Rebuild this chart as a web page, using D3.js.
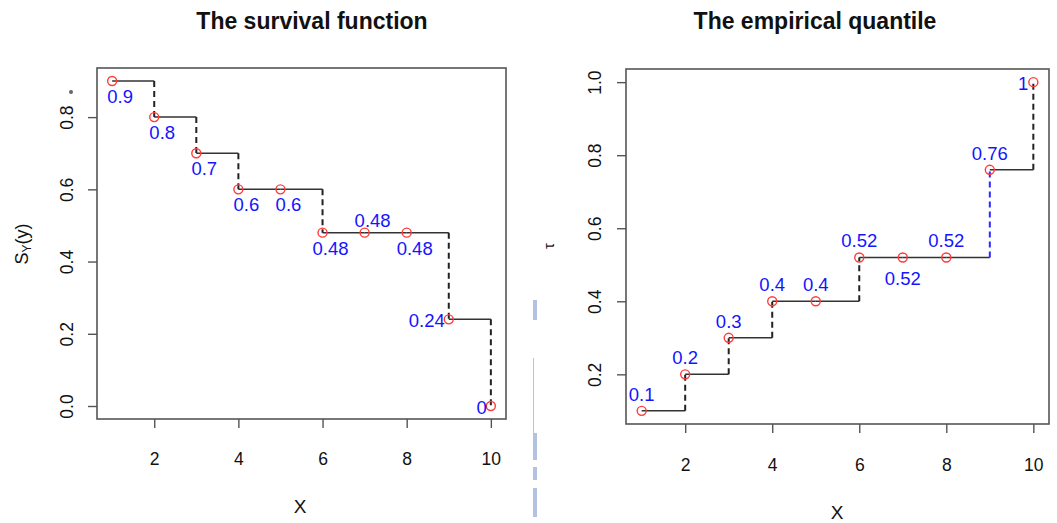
<!DOCTYPE html>
<html>
<head>
<meta charset="utf-8">
<script src="https://cdn.jsdelivr.net/npm/d3@7"></script>
<style>
  body { margin: 0; background: #fff; }
  svg { display: block; font-family: "Liberation Sans", Arial, sans-serif; }
</style>
</head>
<body>
<svg width="1057" height="523"></svg>
<script>
// data
const xs = [1, 2, 3, 4, 5, 6, 7, 8, 9, 10];
const survival = [0.9, 0.8, 0.7, 0.6, 0.6, 0.48, 0.48, 0.48, 0.24, 0];
const survivalPos = ["below", "below", "below", "below", "below", "below", "above", "below", "left", "left"];
const quantile = [0.1, 0.2, 0.3, 0.4, 0.4, 0.52, 0.52, 0.52, 0.76, 1];
const quantilePos = ["above", "above", "above", "above", "above", "above", "below", "above", "above", "left"];
const xTicks = [2, 4, 6, 8, 10];
const survTicks = [0, 0.2, 0.4, 0.6, 0.8];
const quantTicks = [0.2, 0.4, 0.6, 0.8, 1.0];

const svg = d3.select("svg");

// light leftover strips from the screenshot between the panels
const strips = [[533, 300, 4, 20], [533, 358, 1, 75], [533, 433, 4, 27], [533, 467, 4, 13], [533, 488, 4, 29]];
svg.selectAll("rect.strip").data(strips).enter().append("rect")
  .attr("class", "strip")
  .attr("x", d => d[0]).attr("y", d => d[1])
  .attr("width", d => d[2]).attr("height", d => d[3])
  .attr("fill", "#b3c2e0");

function drawPanel(cfg) {
  const x = d3.scaleLinear().domain([0.64, 10.36]).range([cfg.left, cfg.right]);
  const y = d3.scaleLinear().domain(cfg.yDomain).range([cfg.bottom, cfg.top]);
  const g = svg.append("g");

  // box
  g.append("rect")
    .attr("x", cfg.left).attr("y", cfg.top)
    .attr("width", cfg.right - cfg.left).attr("height", cfg.bottom - cfg.top)
    .attr("fill", "none").attr("stroke", "#555").attr("stroke-width", 1.6);

  // x axis
  const xAxis = g.append("g")
    .attr("transform", "translate(0," + cfg.bottom + ")")
    .call(d3.axisBottom(x).tickValues(xTicks).tickSize(9).tickPadding(0).tickFormat(d3.format("d")));
  xAxis.select(".domain").remove();
  xAxis.selectAll(".tick line").attr("stroke", "#555").attr("stroke-width", 1.4);
  xAxis.selectAll(".tick text")
    .attr("y", cfg.xLabY - cfg.bottom).attr("dy", null)
    .attr("font-size", 17.5).attr("fill", "#111").attr("font-family", null);

  // y axis
  const yAxis = g.append("g")
    .attr("transform", "translate(" + cfg.left + ",0)")
    .call(d3.axisLeft(y).tickValues(cfg.yTicks).tickSize(9).tickFormat(d3.format(".1f")));
  yAxis.select(".domain").remove();
  yAxis.selectAll(".tick line").attr("stroke", "#555").attr("stroke-width", 1.4);
  yAxis.selectAll(".tick text")
    .attr("x", null).attr("dy", null)
    .attr("transform", "translate(" + (cfg.yLabX - cfg.left) + ",0) rotate(-90)")
    .attr("text-anchor", "middle")
    .attr("font-size", 17.5).attr("fill", "#111").attr("font-family", null);

  // titles
  g.append("text")
    .attr("x", cfg.titleX).attr("y", 29)
    .attr("text-anchor", "middle").attr("font-weight", "bold").attr("font-size", 23)
    .attr("fill", "#111").text(cfg.title);
  g.append("text")
    .attr("x", cfg.xTitleX).attr("y", cfg.xTitleY)
    .attr("text-anchor", "middle").attr("font-size", 19).attr("fill", "#111").text("X");
  cfg.yTitle(g);

  const vals = cfg.values;
  const steps = d3.range(vals.length - 1);

  // horizontal steps
  g.selectAll("line.h").data(steps).enter().append("line")
    .attr("x1", i => x(xs[i])).attr("x2", i => x(xs[i + 1]))
    .attr("y1", i => y(vals[i])).attr("y2", i => y(vals[i]))
    .attr("stroke", "#333").attr("stroke-width", 1.5);

  // vertical dashed jumps
  g.selectAll("line.v").data(steps.filter(i => vals[i] !== vals[i + 1])).enter().append("line")
    .attr("x1", i => x(xs[i + 1])).attr("x2", i => x(xs[i + 1]))
    .attr("y1", i => y(vals[i])).attr("y2", i => y(vals[i + 1]))
    .attr("stroke", i => (cfg.blueJump === i ? "#2a2aff" : "#222"))
    .attr("stroke-width", 2).attr("stroke-dasharray", "6,4");

  // points
  g.selectAll("circle.p").data(vals).enter().append("circle")
    .attr("cx", (d, i) => x(xs[i])).attr("cy", d => y(d)).attr("r", 4.5)
    .attr("fill", "none").attr("stroke", "#ff3b3b").attr("stroke-width", 1.4);

  // value labels
  g.selectAll("text.lab").data(vals).enter().append("text")
    .attr("x", (d, i) => x(xs[i]) + cfg.offs[cfg.pos[i]][0])
    .attr("y", (d, i) => y(d) + cfg.offs[cfg.pos[i]][1])
    .attr("text-anchor", (d, i) => (cfg.pos[i] === "left" ? "end" : "middle"))
    .attr("font-size", 18.5).attr("fill", "#1414ff")
    .text(d => String(d));
}

drawPanel({
  left: 97, right: 506, top: 68, bottom: 419,
  yDomain: [-0.036, 0.936], yTicks: survTicks,
  xLabY: 465, yLabX: 73, titleX: 312, xTitleX: 300, xTitleY: 513,
  title: "The survival function",
  values: survival, pos: survivalPos,
  offs: { below: [8, 22], above: [8, -6], left: [-4, 8] },
  yTitle: function (g) {
    const t = g.append("text")
      .attr("transform", "translate(28,244) rotate(-90)")
      .attr("text-anchor", "middle").attr("font-size", 18).attr("fill", "#111");
    t.append("tspan").text("S");
    t.append("tspan").attr("font-size", 12).attr("dy", 3).text("Y");
    t.append("tspan").attr("dy", -3).text("(y)");
  }
});

drawPanel({
  left: 626, right: 1049, top: 69, bottom: 424,
  yDomain: [0.064, 1.036], yTicks: quantTicks,
  xLabY: 471, yLabX: 601, titleX: 815, xTitleX: 837, xTitleY: 519,
  title: "The empirical quantile",
  values: quantile, pos: quantilePos, blueJump: 7,
  offs: { below: [0, 28], above: [0, -10], left: [-5, 8] },
  yTitle: function (g) {
    g.append("text")
      .attr("transform", "translate(554,246) rotate(-90)")
      .attr("text-anchor", "middle").attr("font-size", 15).attr("fill", "#111")
      .text("τ");
  }
});

// small stray dot beside the left y axis
svg.append("circle").attr("cx", 71).attr("cy", 92).attr("r", 2).attr("fill", "#666");
</script>
</body>
</html>
